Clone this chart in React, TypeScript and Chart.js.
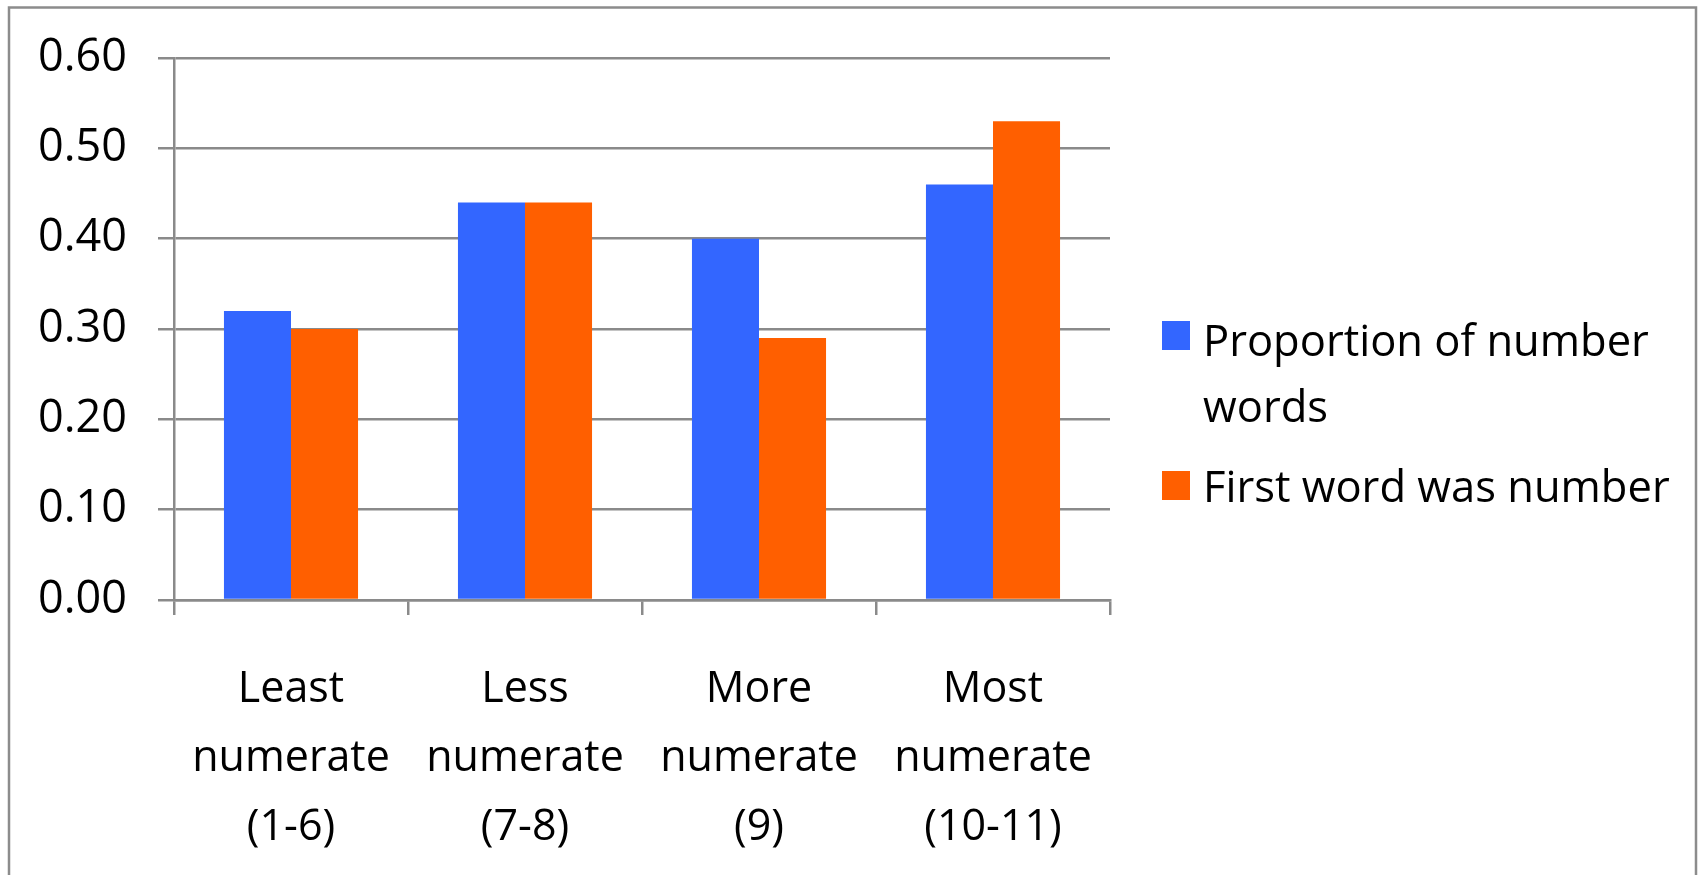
import React, { useEffect, useRef } from "react";
import { Chart, registerables } from "chart.js";

Chart.register(...registerables);

const categories: string[][] = [
  ["Least", "numerate", "(1-6)"],
  ["Less", "numerate", "(7-8)"],
  ["More", "numerate", "(9)"],
  ["Most", "numerate", "(10-11)"],
];
const proportionNumberWords: number[] = [0.32, 0.44, 0.4, 0.46];
const firstWordWasNumber: number[] = [0.3, 0.44, 0.29, 0.53];
const seriesNames: string[][] = [["Proportion of number", "words"], ["First word was number"]];
const yTicks = { min: 0, max: 0.6, step: 0.1 };

const BLUE = "#3366FF";
const ORANGE = "#FF5F00";
const GRID = "#8a8a8a";
const FONT = "'Open Sans', 'Noto Sans', sans-serif";

export default function App() {
  const ref = useRef<HTMLCanvasElement | null>(null);

  useEffect(() => {
    if (!ref.current) return;
    const frame = {
      id: "frame",
      beforeDraw(chart: any) {
        const ctx = chart.ctx;
        ctx.save();
        ctx.fillStyle = "#ffffff";
        ctx.fillRect(0, 0, chart.width, chart.height);
        ctx.strokeStyle = "#8c8c8c";
        ctx.lineWidth = 2.5;
        ctx.beginPath();
        ctx.moveTo(9, 880);
        ctx.lineTo(9, 7.5);
        ctx.lineTo(1696, 7.5);
        ctx.lineTo(1696, 880);
        ctx.stroke();
        ctx.restore();
      },
    };
    const legend = {
      id: "customLegend",
      afterDraw(chart: any) {
        const ctx = chart.ctx;
        ctx.save();
        ctx.font = `43.5px ${FONT}`;
        ctx.textBaseline = "alphabetic";
        ctx.textAlign = "left";
        const items = [
          { color: BLUE, lines: seriesNames[0], box: 321, base: 356 },
          { color: ORANGE, lines: seriesNames[1], box: 471, base: 502 },
        ];
        items.forEach((it) => {
          ctx.fillStyle = it.color;
          ctx.fillRect(1162, it.box, 28, 29);
          ctx.fillStyle = "#000000";
          it.lines.forEach((l: string, i: number) => {
            ctx.fillText(l, 1203, it.base + i * 66);
          });
        });
        ctx.restore();
      },
    };
    const chart = new Chart(ref.current, {
      type: "bar",
      data: {
        labels: categories,
        datasets: [
          {
            label: seriesNames[0].join(" "),
            data: proportionNumberWords,
            backgroundColor: BLUE,
            borderWidth: 0,
          },
          {
            label: seriesNames[1].join(" "),
            data: firstWordWasNumber,
            backgroundColor: ORANGE,
            borderWidth: 0,
          },
        ],
      },
      options: {
        animation: false,
        responsive: false,
        maintainAspectRatio: false,
        layout: { padding: { left: 0, top: 55, right: 590, bottom: 0 } },
        plugins: {
          legend: { display: false },
          tooltip: { enabled: false },
          title: { display: false },
        },
        datasets: {
          bar: { categoryPercentage: 0.573, barPercentage: 1.0 },
        },
        scales: {
          x: {
            afterFit(scale: any) {
              scale.height = 275;
            },
            grid: {
              offset: true,
              drawOnChartArea: false,
              drawTicks: true,
              tickLength: 15,
              color: GRID,
              lineWidth: 2.5,
            },
            border: { display: true, color: GRID, width: 2.5 },
            ticks: {
              color: "#000000",
              font: { family: FONT, size: 43, lineHeight: 1.605 },
              padding: 40,
              maxRotation: 0,
              autoSkip: false,
            },
          },
          y: {
            min: yTicks.min,
            max: yTicks.max,
            afterFit(scale: any) {
              scale.width = 174;
            },
            grid: {
              drawOnChartArea: true,
              drawTicks: true,
              tickLength: 16,
              color: GRID,
              lineWidth: 2.5,
            },
            border: { display: true, color: GRID, width: 2.5 },
            ticks: {
              stepSize: yTicks.step,
              color: "#000000",
              font: { family: FONT, size: 45 },
              padding: 31,
              callback: (v: any) => Number(v).toFixed(2),
            },
          },
        },
      },
      plugins: [frame, legend],
    });
    return () => chart.destroy();
  }, []);

  return (
    <canvas
      ref={ref}
      width={1700}
      height={875}
      style={{ position: "fixed", left: 0, top: 0, width: 1700, height: 875 }}
    />
  );
}
